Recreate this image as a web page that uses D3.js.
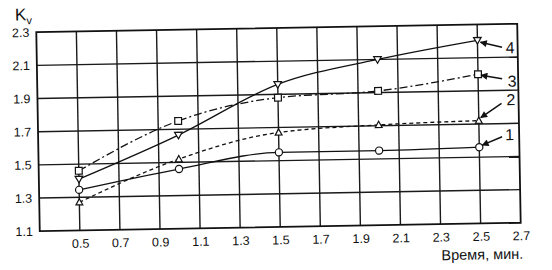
<!DOCTYPE html>
<html><head><meta charset="utf-8">
<script src="https://cdn.jsdelivr.net/npm/d3@7"></script>
<style>
body{margin:0;background:#fff;}
svg{display:block;}
text{font-family:"Liberation Sans",Arial,sans-serif;fill:#111;}
</style></head>
<body><svg id="c" width="552" height="270"></svg>
<script>
const xTicks = [0.5,0.7,0.9,1.1,1.3,1.5,1.7,1.9,2.1,2.3,2.5,2.7];
const yTicks = [1.1,1.3,1.5,1.7,1.9,2.1,2.3];
const times = [0.5,1.0,1.5,2.0,2.5];
const series1 = [1.345,1.46,1.55,1.55,1.56];
const series2 = [1.27,1.52,1.67,1.705,1.72];
const series3 = [1.46,1.75,1.88,1.91,2.0];
const series4 = [1.41,1.665,1.96,2.1,2.205];
const seriesLabels = ["1","2","3","4"];
const yTitle = "K";
const yTitleSub = "v";
const xTitle = "Время, мин.";

const W=552,H=270;
const L=38,R=519,T=28,B=227;
const svg=d3.select("#c");
const g=svg.append("g").attr("transform","rotate(-1,278,128)");
const x=d3.scaleLinear().domain([0.3,2.7]).range([L,R]);
const y=d3.scaleLinear().domain([1.1,2.3]).range([B,T]);

// grid
g.append("g").selectAll("line").data(xTicks.filter(v=>v<2.65)).join("line")
  .attr("x1",d=>x(d)).attr("x2",d=>x(d)).attr("y1",T).attr("y2",B)
  .attr("stroke","#1a1a1a").attr("stroke-width",1.4);
g.append("g").selectAll("line").data(yTicks.filter(v=>v>1.15&&v<2.25)).join("line")
  .attr("x1",L).attr("x2",R).attr("y1",d=>y(d)).attr("y2",d=>y(d))
  .attr("stroke","#1a1a1a").attr("stroke-width",1.4);
g.append("rect").attr("x",L).attr("y",T).attr("width",R-L).attr("height",B-T)
  .attr("fill","none").attr("stroke","#111").attr("stroke-width",1.8);

// axes
const ax=g.append("g").attr("transform",`translate(0,${B})`)
  .call(d3.axisBottom(x).tickValues(xTicks).tickSize(0).tickPadding(8.5).tickFormat(d3.format(".1f")));
ax.select(".domain").remove();
ax.selectAll("text").attr("font-size",12.5).attr("font-family","Liberation Sans, Arial, sans-serif").attr("fill","#111");
const ay=g.append("g").attr("transform",`translate(${L},0)`)
  .call(d3.axisLeft(y).tickValues(yTicks).tickSize(0).tickPadding(7).tickFormat(d3.format(".1f")));
ay.select(".domain").remove();
ay.selectAll("text").attr("font-size",12.5).attr("font-family","Liberation Sans, Arial, sans-serif").attr("fill","#111");

// titles
const kt=g.append("text").attr("x",17).attr("y",16).attr("font-size",17);
kt.append("tspan").text(yTitle);
kt.append("tspan").text(yTitleSub).attr("font-size",11).attr("dy",4);
g.append("text").attr("x",521).attr("y",263).attr("text-anchor","end").attr("font-size",14.5).text(xTitle);

// series
const line=d3.line().x(d=>x(d[0])).y(d=>y(d[1])).curve(d3.curveMonotoneX);
const allSeries=[
  {vals:series1,dash:null,shape:"circle"},
  {vals:series2,dash:"4,3",shape:"tri"},
  {vals:series3,dash:"8,3,2,3",shape:"square"},
  {vals:series4,dash:null,shape:"tridown"}
];
allSeries.forEach(s=>{
  const pts=times.map((t,i)=>[t,s.vals[i]]);
  g.append("path").attr("d",line(pts)).attr("fill","none").attr("stroke","#111")
    .attr("stroke-width",1.3).attr("stroke-dasharray",s.dash);
});
allSeries.forEach(s=>{
  const pts=times.map((t,i)=>[t,s.vals[i]]);
  const mg=g.append("g");
  pts.forEach(p=>{
    const cx=x(p[0]),cy=y(p[1]);
    let el;
    if(s.shape==="circle") el=mg.append("circle").attr("cx",cx).attr("cy",cy).attr("r",3.6);
    else if(s.shape==="square") el=mg.append("rect").attr("x",cx-3.4).attr("y",cy-3.4).attr("width",6.8).attr("height",6.8);
    else if(s.shape==="tri") el=mg.append("path").attr("d",`M${cx},${cy-3.6}L${cx+3.4},${cy+2.6}L${cx-3.4},${cy+2.6}Z`);
    else el=mg.append("path").attr("d",`M${cx},${cy+3.8}L${cx+3.8},${cy-2.8}L${cx-3.8},${cy-2.8}Z`);
    el.attr("fill","#fff").attr("stroke","#111").attr("stroke-width",1.2);
  });
});

// annotations
svg.append("defs").append("marker").attr("id","ah").attr("viewBox","0 0 10 10")
  .attr("refX",9).attr("refY",5).attr("markerWidth",9).attr("markerHeight",7)
  .attr("markerUnits","userSpaceOnUse").attr("orient","auto")
  .append("path").attr("d","M0,0L10,5L0,10Z").attr("fill","#111");
const ann=[
  {tip:[3,-2],tail:[23,-10],txt:[30.5,-6.5]},
  {tip:[2,-3],tail:[23,-17],txt:[32.5,-15]},
  {tip:[3,1],tail:[24,5],txt:[34,13]},
  {tip:[3,2],tail:[24.5,7.5],txt:[32.5,13.5]}
];
allSeries.forEach((s,i)=>{
  const mx=x(times[4]),my=y(s.vals[4]);
  const a=ann[i];
  g.append("line").attr("x1",mx+a.tail[0]).attr("y1",my+a.tail[1])
    .attr("x2",mx+a.tip[0]).attr("y2",my+a.tip[1])
    .attr("stroke","#111").attr("stroke-width",1.5).attr("marker-end","url(#ah)");
  g.append("text").attr("x",mx+a.txt[0]).attr("y",my+a.txt[1]).attr("text-anchor","middle")
    .attr("font-size",16).text(seriesLabels[i]);
});
</script></body></html>
